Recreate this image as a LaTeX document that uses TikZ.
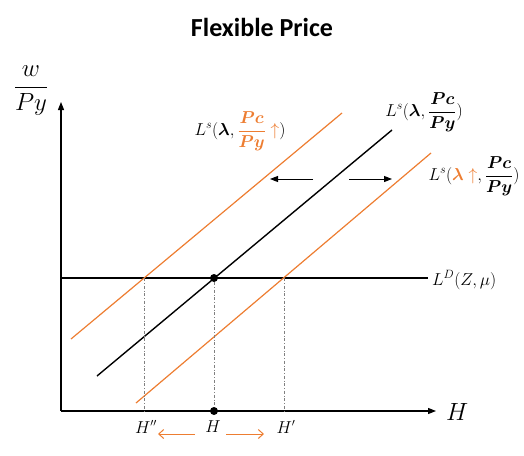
\documentclass[tikz,border=0pt]{standalone}
\usepackage{amsmath,bm}
\usepackage{fontspec}
\newfontfamily\titlefont{Carlito}
\usetikzlibrary{arrows.meta}
\definecolor{lorange}{HTML}{ED7D31}
\begin{document}
\begin{tikzpicture}[x=1pt,y=-1pt,
  axis/.style={line width=1.2pt,-{Triangle[length=8pt,width=6pt]}},
  supply/.style={line width=1.4pt},
  shifted/.style={line width=1.2pt,draw=lorange},
  guide/.style={gray,line width=0.5pt,dash dot},
  dot/.style={circle,fill=black,inner sep=0pt,minimum size=8pt},
  lbl/.style={font=\fontsize{17}{19}\selectfont,inner sep=0pt},
  hlbl/.style={font=\fontsize{16}{18}\selectfont,inner sep=0pt},
  shiftarrow/.style={line width=1pt,-{Triangle[length=8pt,width=6pt]}},
  movearrow/.style={line width=1pt,draw=lorange,-{Straight Barb[length=5pt,width=9pt]}},
]
\useasboundingbox (0,0) rectangle (524,455);
\node[font=\titlefont\bfseries\fontsize{26}{30}\selectfont] (title) at (262,27) {Flexible Price};
% axes
\coordinate (O) at (61,411);
\coordinate (ytop) at (61,102);
\coordinate (xend) at (436,411);
\draw[axis] (O) -- (ytop);
\draw[axis] (O) -- (xend);
\node[font=\fontsize{23}{27}\selectfont] (ylabel) at (31,91) {$\dfrac{w}{Py}$};
\node[font=\fontsize{23}{27}\selectfont,anchor=west,inner sep=0pt] (xlabel) at (446,412) {$H$};
% demand
\coordinate (dl) at (61,278);
\coordinate (dr) at (428,278);
\draw[supply] (dl) -- (dr);
\node[lbl,anchor=west] (ldlabel) at (432,280) {$L^D(Z,\mu)$};
% supply curves
\coordinate (s0a) at (97,376);
\coordinate (s0b) at (392,130);
\draw[supply] (s0a) -- (s0b);
\coordinate (s1a) at (71,339);
\coordinate (s1b) at (342,113);
\draw[shifted] (s1a) -- (s1b);
\coordinate (s2a) at (136,403);
\coordinate (s2b) at (431,153);
\draw[shifted] (s2a) -- (s2b);
% intersections and guides
\coordinate (eL) at (144,278);
\coordinate (eR) at (284,278);
\coordinate (bL) at (144,411);
\coordinate (bR) at (284,411);
\node[dot] (E) at (214,278) {};
\node[dot] (Eb) at (214,411) {};
\draw[guide] (eL) -- (bL);
\draw[guide] (E) -- (Eb);
\draw[guide] (eR) -- (bR);
% H labels
\node[hlbl] (hpp) at (146,427) {$H''$};
\node[hlbl] (h0) at (213,427) {$H$};
\node[hlbl] (hp) at (286,427) {$H'$};
\coordinate (la1) at (195,434);
\coordinate (la2) at (158,434);
\coordinate (ra1) at (226,434);
\coordinate (ra2) at (264,434);
\draw[movearrow] (la1) -- (la2);
\draw[movearrow] (ra1) -- (ra2);
% shift arrows
\coordinate (sa1) at (313,179);
\coordinate (sa2) at (270,179);
\coordinate (sb1) at (349,179);
\coordinate (sb2) at (392,179);
\draw[shiftarrow] (sa1) -- (sa2);
\draw[shiftarrow] (sb1) -- (sb2);
% supply labels
\node[lbl] (ls1) at (240,131) {$L^s(\boldsymbol{\lambda},\textcolor{lorange}{\dfrac{\boldsymbol{Pc}}{\boldsymbol{Py}}\uparrow})$};
\node[lbl] (ls0) at (424,112) {$L^s(\boldsymbol{\lambda},\dfrac{\boldsymbol{Pc}}{\boldsymbol{Py}})$};
\node[lbl] (ls2) at (474,176) {$L^s(\textcolor{lorange}{\boldsymbol{\lambda}\uparrow},\dfrac{\boldsymbol{Pc}}{\boldsymbol{Py}})$};
\end{tikzpicture}
\end{document}
